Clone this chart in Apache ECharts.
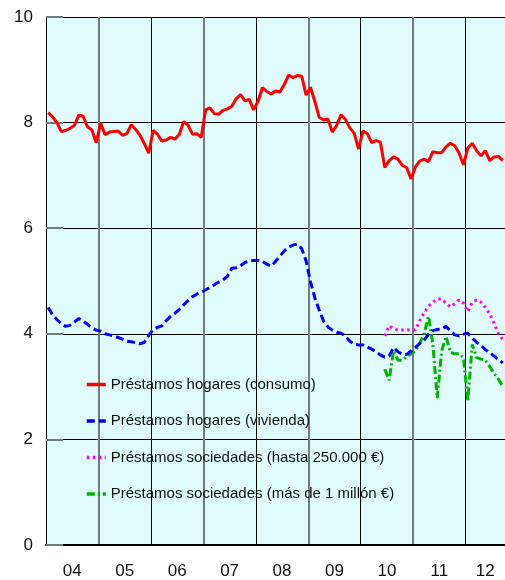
<!DOCTYPE html>
<html>
<head>
<meta charset="utf-8">
<script src="https://cdn.jsdelivr.net/npm/echarts@6/dist/echarts.min.js"></script>
<style>
html,body{margin:0;padding:0;background:#fff;}
#c{width:505px;height:580px;}
</style>
</head>
<body>
<div id="c"></div>
<script>
// Tick labels (years)
const yearLabels = ['04','05','06','07','08','09','10','11','12'];
const firstYear = 2004;
const monthCount = 105; // Jan 2004 .. Sep 2012
const yTicks = [0, 2, 4, 6, 8, 10];

// Series names
const seriesNames = [
  'Préstamos hogares (consumo)',
  'Préstamos hogares (vivienda)',
  'Préstamos sociedades (hasta 250.000 €)',
  'Préstamos sociedades (más de 1 millón €)'
];

// Monthly values, Jan 2004 .. Sep 2012
const consumo = [
  8.19, 8.11, 8.00, 7.83, 7.85, 7.89, 7.95, 8.14, 8.12, 7.92, 7.86, 7.62,
  7.99, 7.77, 7.82, 7.83, 7.84, 7.76, 7.79, 7.96, 7.87, 7.76, 7.60, 7.42,
  7.85, 7.78, 7.65, 7.67, 7.72, 7.69, 7.78, 8.02, 7.95, 7.78, 7.79, 7.72,
  8.24, 8.28, 8.17, 8.16, 8.23, 8.26, 8.31, 8.45, 8.53, 8.41, 8.44, 8.24,
  8.40, 8.66, 8.59, 8.54, 8.60, 8.58, 8.72, 8.90, 8.85, 8.89, 8.88, 8.52,
  8.67, 8.40, 8.10, 8.05, 8.07, 7.82, 7.95, 8.15, 8.06, 7.90, 7.80, 7.50,
  7.84, 7.79, 7.62, 7.66, 7.63, 7.15, 7.28, 7.35, 7.31, 7.19, 7.15, 6.93,
  7.16, 7.27, 7.31, 7.26, 7.45, 7.43, 7.43, 7.54, 7.61, 7.56, 7.42, 7.20,
  7.52, 7.61, 7.47, 7.37, 7.47, 7.28, 7.35, 7.36, 7.28
];
const vivienda = [
  4.50, 4.36, 4.27, 4.19, 4.14, 4.16, 4.22, 4.29, 4.24, 4.18, 4.11, 4.07,
  4.05, 4.00, 3.98, 3.96, 3.93, 3.90, 3.86, 3.85, 3.83, 3.81, 3.84, 3.97,
  4.08, 4.12, 4.15, 4.25, 4.33, 4.39, 4.46, 4.55, 4.63, 4.70, 4.75, 4.79,
  4.83, 4.88, 4.93, 4.98, 5.02, 5.09, 5.24, 5.25, 5.29, 5.35, 5.38, 5.39,
  5.39, 5.37, 5.32, 5.28, 5.37, 5.47, 5.57, 5.64, 5.68, 5.70, 5.61, 5.38,
  4.99, 4.68, 4.45, 4.24, 4.13, 4.07, 4.03, 4.01, 3.96, 3.86, 3.80, 3.79,
  3.79, 3.75, 3.71, 3.66, 3.60, 3.56, 3.58, 3.74, 3.66, 3.61, 3.61, 3.67,
  3.74, 3.82, 3.88, 3.99, 4.06, 4.08, 4.09, 4.14, 4.06, 3.98, 3.96, 3.99,
  4.01, 3.92, 3.84, 3.78, 3.70, 3.64, 3.58, 3.51, 3.45
];
// Sociedades series start in June 2010
const sociedadesStart = '2010-06';
const hasta250k = [
  3.96, 4.15, 4.10, 4.07, 4.07, 4.07, 4.08,
  4.07, 4.25, 4.40, 4.52, 4.60, 4.66, 4.66, 4.58, 4.51, 4.57, 4.64, 4.58,
  4.42, 4.60, 4.64, 4.60, 4.50, 4.38, 4.20, 4.00, 3.89
];
const masDe1M = [
  3.33, 3.12, 3.68, 3.50, 3.50, 3.57, 3.62,
  3.68, 3.82, 4.00, 4.33, 3.80, 2.78, 3.67, 3.95, 3.65, 3.62, 3.62, 3.55,
  2.72, 3.80, 3.55, 3.52, 3.50, 3.38, 3.25, 3.14, 3.00
];

// month keys
const months = [];
for (let i = 0; i < monthCount; i++) {
  const y = firstYear + Math.floor(i / 12);
  const m = (i % 12) + 1;
  months.push(y + '-' + (m < 10 ? '0' + m : m));
}
const startIdx = months.indexOf(sociedadesStart);

function toPoints(vals, offset) {
  return vals.map((v, k) => [offset + k + 0.5, v]);
}

// year label positions: centre of the visible part of each year
const labelPos = yearLabels.map((_, k) => (k * 12 + Math.min(k * 12 + 12, monthCount)) / 2);

const FONT = '"Liberation Sans", Arial, Helvetica, sans-serif';
const chart = echarts.init(document.getElementById('c'), null, {renderer: 'canvas'});
chart.setOption({
  animation: false,
  backgroundColor: '#ffffff',
  grid: {
    left: 46, right: 0, top: 17, bottom: 34,
    show: true, backgroundColor: '#dffbfb', borderWidth: 0
  },
  legend: {
    orient: 'vertical',
    left: 80, top: 372,
    itemWidth: 19, itemHeight: 14, itemGap: 21.5,
    itemStyle: {opacity: 0},
    lineStyle: {width: 3.5},
    textStyle: {fontFamily: FONT, fontSize: 15, color: '#111'},
    data: seriesNames
  },
  xAxis: {
    type: 'value',
    min: 0, max: monthCount, interval: 24,
    axisLine: {show: true, onZero: false, lineStyle: {color: '#000', width: 2}},
    axisTick: {show: false},
    minorTick: {show: false, splitNumber: 2},
    minorSplitLine: {show: true, lineStyle: {color: '#6f7c7c', width: 2}},
    splitLine: {show: true, lineStyle: {color: '#000', width: 1}},
    axisLabel: {
      customValues: labelPos,
      formatter: function (v) {
        return yearLabels[Math.min(Math.floor(v / 12), yearLabels.length - 1)];
      },
      fontFamily: FONT, fontSize: 17, color: '#111', margin: 18
    }
  },
  yAxis: {
    type: 'value',
    min: yTicks[0], max: yTicks[yTicks.length - 1], interval: yTicks[1] - yTicks[0],
    axisLine: {show: true, lineStyle: {color: '#000', width: 1}},
    axisTick: {show: true, inside: true, length: 17, lineStyle: {color: '#6f7c7c', width: 2}},
    splitLine: {show: true, lineStyle: {color: '#000', width: 1}},
    axisLabel: {fontFamily: FONT, fontSize: 17, color: '#111', margin: 13}
  },
  series: [
    {
      name: seriesNames[0], type: 'line', symbol: 'none', z: 5,
      data: toPoints(consumo, 0),
      lineStyle: {color: '#ff0000', width: 3},
      itemStyle: {color: '#ff0000'}
    },
    {
      name: seriesNames[1], type: 'line', symbol: 'none', z: 4,
      data: toPoints(vivienda, 0),
      lineStyle: {color: '#0000ff', width: 3, type: [8, 4]},
      itemStyle: {color: '#0000ff'}
    },
    {
      name: seriesNames[2], type: 'line', symbol: 'none', z: 3,
      data: toPoints(hasta250k, startIdx),
      lineStyle: {color: '#ff00ff', width: 3, type: [2.5, 3.5]},
      itemStyle: {color: '#ff00ff'}
    },
    {
      name: seriesNames[3], type: 'line', symbol: 'none', z: 3,
      data: toPoints(masDe1M, startIdx),
      lineStyle: {color: '#00b400', width: 3, type: [8, 3, 2, 3]},
      itemStyle: {color: '#00b400'}
    }
  ]
});
</script>
</body>
</html>
